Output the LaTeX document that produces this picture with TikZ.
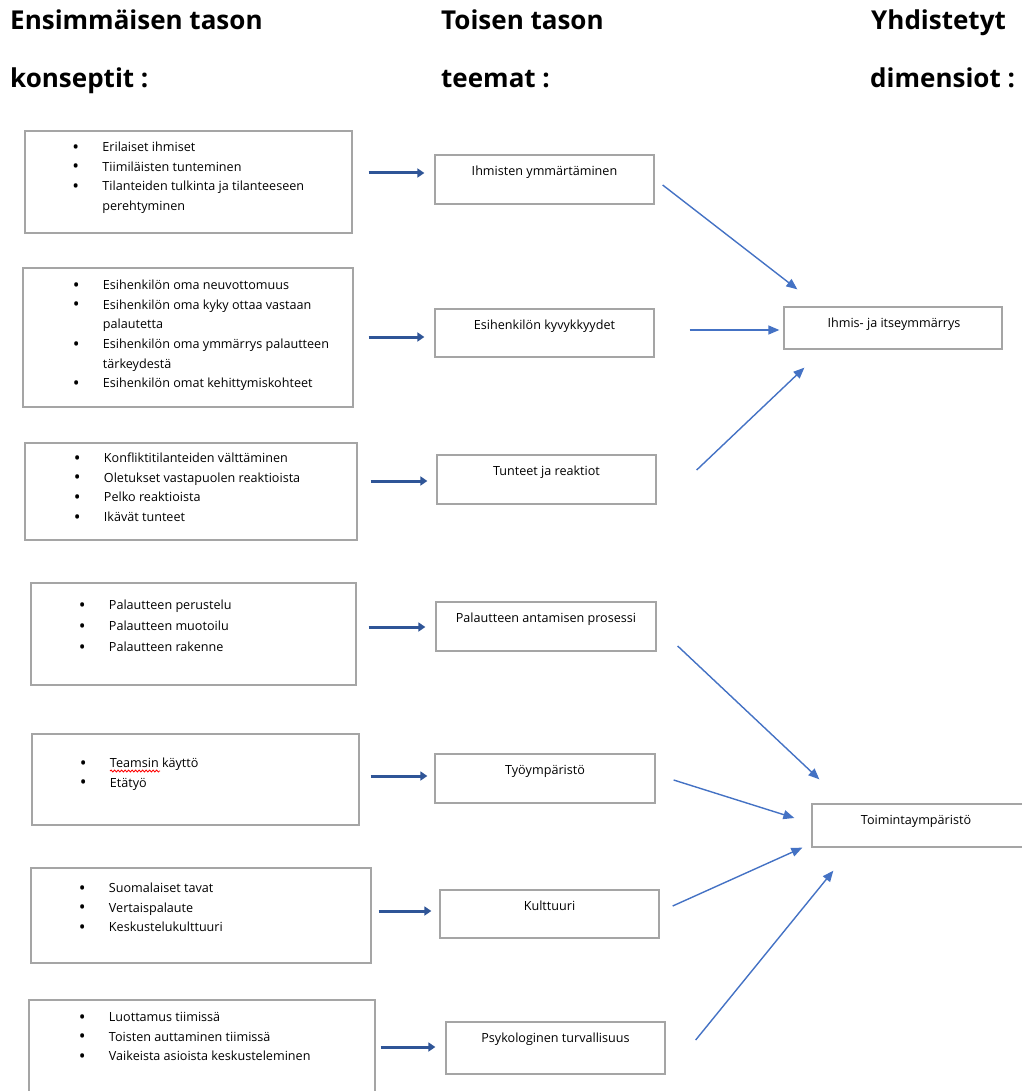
\documentclass[tikz,border=0pt]{standalone}
\usepackage{fontspec}
\setmainfont{Open Sans}
\usetikzlibrary{calc,arrows.meta,decorations.pathmorphing}

\definecolor{reunaharmaa}{HTML}{A5A5A5}
\definecolor{tummasin}{HTML}{2F5597}
\definecolor{vaaleasin}{HTML}{4472C4}

\newcommand{\kohta}{\makebox[30pt][l]{\raisebox{-1.6pt}{\fontsize{18}{12}\selectfont\textbullet}}}
\newcommand{\jatko}{\hspace*{30pt}}

\begin{document}
\begin{tikzpicture}
   [x=1pt,y=-1pt,
   laatikko/.style 2 args={draw=reunaharmaa,line width=1.3pt,minimum width=#1,minimum height=#2,inner sep=0pt},
   lista/.style={anchor=north west,inner sep=0pt,align=left,font=\fontsize{12.6}{19.6}\selectfont},
   teksti/.style={anchor=base,inner sep=0pt,font=\fontsize{12.6}{14}\selectfont},
   otsikko/.style={anchor=base west,inner sep=0pt,font=\bfseries\fontsize{26}{30}\selectfont},
   paksu/.style={draw=tummasin,line width=3pt,-{Triangle[length=7pt,width=9pt]}},
   ohut/.style={draw=vaaleasin,line width=1.4pt,-{Triangle[length=11pt,width=9pt]}}]

   \useasboundingbox (0,0) rectangle (1021,1091);

   % otsikot
   \node[otsikko] (o1a) at (10,30)  {Ensimmäisen tason};
   \node[otsikko] (o1b) at (10,88)  {konseptit :};
   \node[otsikko] (o2a) at (441,30) {Toisen tason};
   \node[otsikko] (o2b) at (441,88) {teemat :};
   \node[otsikko] (o3a) at (871,30) {Yhdistetyt};
   \node[otsikko] (o3b) at (870,88) {dimensiot :};

   % ensimmäisen tason konseptit
   \node[laatikko={327pt}{102pt}] (k1) at (188.5,182)  {};
   \node[laatikko={330pt}{139pt}] (k2) at (188,337.5)  {};
   \node[laatikko={332pt}{97pt}]  (k3) at (191,491.5)  {};
   \node[laatikko={325pt}{102pt}] (k4) at (193.5,634)  {};
   \node[laatikko={327pt}{91pt}]  (k5) at (195.5,779.5) {};
   \node[laatikko={340pt}{95pt}]  (k6) at (201,915.5)  {};
   \node[laatikko={346pt}{110pt}] (k7) at (202,1055)   {};

   \node[lista] (l1) at (72.25,141.5) {\rule{0pt}{10pt}\kohta Erilaiset ihmiset\\
      \kohta Tiimiläisten tunteminen\\
      \kohta Tilanteiden tulkinta ja tilanteeseen\\
      \jatko perehtyminen};
   \node[lista] (l2) at (72.75,279.5) {\rule{0pt}{10pt}\kohta Esihenkilön oma neuvottomuus\\
      \kohta Esihenkilön oma kyky ottaa vastaan\\
      \jatko palautetta\\
      \kohta Esihenkilön oma ymmärrys palautteen\\
      \jatko tärkeydestä\\
      \kohta Esihenkilön omat kehittymiskohteet};
   \node[lista] (l3) at (73.75,452.5) {\rule{0pt}{10pt}\kohta Konfliktitilanteiden välttäminen\\
      \kohta Oletukset vastapuolen reaktioista\\
      \kohta Pelko reaktioista\\
      \kohta Ikävät tunteet};
   \node[lista,font=\fontsize{12.6}{21}\selectfont] (l4) at (78.75,599.5) {\rule{0pt}{10pt}\kohta Palautteen perustelu\\
      \kohta Palautteen muotoilu\\
      \kohta Palautteen rakenne};
   \node[lista] (l5) at (79.75,757.5) {\rule{0pt}{10pt}\kohta Teamsin käyttö\\
      \kohta Etätyö};
   \node[lista] (l6) at (78.75,882.5) {\rule{0pt}{10pt}\kohta Suomalaiset tavat\\
      \kohta Vertaispalaute\\
      \kohta Keskustelukulttuuri};
   \node[lista] (l7) at (78.75,1011.5) {\rule{0pt}{10pt}\kohta Luottamus tiimissä\\
      \kohta Toisten auttaminen tiimissä\\
      \kohta Vaikeista asioista keskusteleminen};

   % oikeinkirjoitusmerkintä
   \draw[red,line width=0.8pt,decorate,decoration={snake,amplitude=1pt,segment length=3.5pt}]
      (110,771) -- (160,771);

   % toisen tason teemat
   \node[laatikko={219pt}{49pt}] (t1) at (544.5,179.5) {};
   \node[laatikko={219pt}{48pt}] (t2) at (544.5,333)   {};
   \node[laatikko={219pt}{49pt}] (t3) at (546.5,479.5) {};
   \node[laatikko={220pt}{49pt}] (t4) at (546,626.5)   {};
   \node[laatikko={220pt}{49pt}] (t5) at (545,778.5)   {};
   \node[laatikko={219pt}{48pt}] (t6) at (549.5,914)   {};
   \node[laatikko={219pt}{52pt}] (t7) at (555.5,1048)  {};

   \node[teksti] (s1) at ($(t1.north)+(0,21.5)$) {Ihmisten ymmärtäminen};
   \node[teksti] (s2) at ($(t2.north)+(0,21.5)$) {Esihenkilön kyvykkyydet};
   \node[teksti] (s3) at ($(t3.north)+(0,21.5)$) {Tunteet ja reaktiot};
   \node[teksti] (s4) at ($(t4.north)+(0,21.5)$) {Palautteen antamisen prosessi};
   \node[teksti] (s5) at ($(t5.north)+(0,21.5)$) {Työympäristö};
   \node[teksti] (s6) at ($(t6.north)+(0,21.5)$) {Kulttuuri};
   \node[teksti] (s7) at ($(t7.north)+(0,21.5)$) {Psykologinen turvallisuus};

   % yhdistetyt dimensiot
   \node[laatikko={218pt}{42pt}] (r1) at (893,328)   {};
   \node[laatikko={212pt}{43pt}] (r2) at (918,825.5) {};

   \node[teksti] (d1) at ($(r1.north)+(1,21.5)$)  {Ihmis- ja itseymmärrys};
   \node[teksti] (d2) at ($(r2.north)+(-2,21.5)$) {Toimintaympäristö};

   % konseptit -> teemat
   \draw[paksu] ($(k1.east)+(16,-9)$)  -- ($(t1.west)+(-10,-6.5)$);
   \draw[paksu] ($(k2.east)+(15,-0.5)$) -- ($(t2.west)+(-10,4)$);
   \draw[paksu] ($(k3.east)+(13,-10.5)$) -- ($(t3.west)+(-9,1.5)$);
   \draw[paksu] ($(k4.east)+(12,-7)$)  -- ($(t4.west)+(-10,0.5)$);
   \draw[paksu] ($(k5.east)+(11,-3.5)$) -- ($(t5.west)+(-7,-2.5)$);
   \draw[paksu] ($(k6.east)+(7,-4.5)$)  -- ($(t6.west)+(-8,-3)$);
   \draw[paksu] ($(k7.east)+(5,-8)$)   -- ($(t7.west)+(-10,-1)$);

   % teemat -> dimensiot
   \draw[ohut] ($(t1.east)+(8,5.5)$)   -- ($(r1.north west)+(14,-17)$);
   \draw[ohut] ($(t2.east)+(35,-3)$)   -- ($(r1.west)+(-4,2)$);
   \draw[ohut] ($(t3.east)+(40,-9.5)$) -- ($(r1.south west)+(21,18)$);
   \draw[ohut] ($(t4.east)+(21,19.5)$) -- ($(r2.north west)+(8,-24)$);
   \draw[ohut] ($(t5.east)+(18,1.5)$)  -- ($(r2.west)+(-17,-7.5)$);
   \draw[ohut] ($(t6.east)+(13,-8)$)   -- ($(r2.south west)+(-9,0)$);
   \draw[ohut] ($(t7.east)+(30,-8)$)   -- ($(r2.south west)+(22,23)$);
\end{tikzpicture}
\end{document}
